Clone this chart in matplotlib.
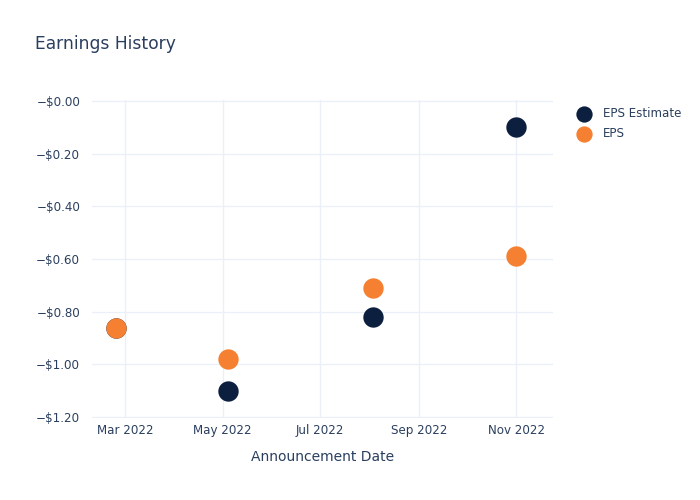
import matplotlib
matplotlib.use('Agg')
import matplotlib.pyplot as plt
import matplotlib.dates as mdates
from matplotlib.ticker import FuncFormatter, FixedLocator
from datetime import datetime

# data
dates = ['2022-02-23', '2022-05-04', '2022-08-03', '2022-11-01']
eps_estimate = [-0.86, -1.10, -0.82, -0.10]
eps_actual = [-0.86, -0.98, -0.71, -0.59]
y_ticks = [0.0, -0.2, -0.4, -0.6, -0.8, -1.0, -1.2]

x = [datetime.strptime(d, '%Y-%m-%d') for d in dates]

text_col = '#2a3f5f'
grid_col = '#ebf0f8'
navy = '#0d1f3f'
orange = '#f58032'

fig = plt.figure(figsize=(7, 5), dpi=100)
ax = fig.add_axes([92/700, 1 - 418/500, (553 - 92)/700, (418 - 100)/500])

ax.scatter(x, eps_estimate, s=215, color=navy, label='EPS Estimate', zorder=3, linewidths=0)
ax.scatter(x, eps_actual, s=215, color=orange, label='EPS', zorder=4, linewidths=0)

ax.set_xlim(datetime(2022, 2, 8), datetime(2022, 11, 24))
ax.set_ylim(-1.203, 0.003)

ax.xaxis.set_major_locator(mdates.MonthLocator(bymonth=[3, 5, 7, 9, 11]))
ax.xaxis.set_major_formatter(mdates.DateFormatter('%b %Y'))
ax.yaxis.set_major_locator(FixedLocator(y_ticks))
ax.yaxis.set_major_formatter(FuncFormatter(lambda v, p: '\u2212$%.2f' % abs(v)))

for s in ax.spines.values():
    s.set_visible(False)
ax.grid(True, color=grid_col, linewidth=1)
ax.set_axisbelow(True)
ax.tick_params(axis='both', length=0, labelsize=8.6, labelcolor=text_col)
ax.tick_params(axis='y', pad=8.5)
ax.tick_params(axis='x', pad=4)

ax.set_xlabel('Announcement Date', fontsize=10, color=text_col, labelpad=10)
fig.text(35/700, 1 - 44/500, 'Earnings History', fontsize=12.3, color=text_col, va='center', ha='left')

leg = ax.legend(loc='upper left', bbox_to_anchor=(1.03, 0.992), frameon=False,
                fontsize=8.6, labelcolor=text_col, handletextpad=0.6, borderaxespad=0,
                labelspacing=0.55, markerscale=0.8)

fig.savefig('out.png', dpi=100)
